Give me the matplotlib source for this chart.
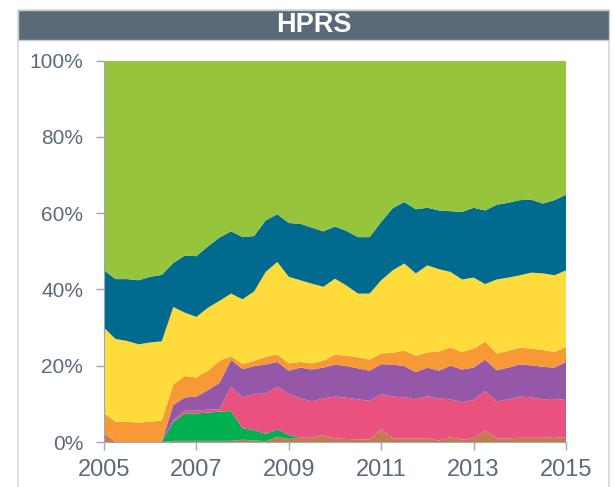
import matplotlib
matplotlib.use('Agg')
import matplotlib.pyplot as plt
from matplotlib.patches import Rectangle
import numpy as np

# quarterly shares (%), 2005 Q1 .. 2015 Q1
quarters = np.arange(2005, 2015.01, 0.25)

brown = [2.3, 0, 0, 0, 0, 0, 0.3, 0.3, 0.3, 0.3, 0.3, 0.3, 0.6, 0.4, 0.2, 1.4, 0.8, 1.1, 1.1, 1.8, 0.9,
         0.8, 0.7, 0.6, 3.4, 0.9, 0.9, 0.9, 0.9, 0.4, 1.3, 0.6, 1.0, 3.0, 0.9, 0.9, 1.1, 1.1, 1.1, 1.3, 1.1]
green = [0, 0, 0, 0, 0, 0, 5.0, 7.2, 7.2, 7.4, 7.7, 7.8, 3.0, 2.7, 1.9, 1.9, 1.0, 0, 0, 0, 0,
         0, 0, 0, 0, 0, 0, 0, 0, 0, 0, 0, 0, 0, 0, 0, 0, 0, 0, 0, 0]
pink = [0, 0, 0, 0, 0, 0, 0.3, 0.7, 0.7, 0.8, 0.6, 6.4, 8.1, 9.5, 10.6, 11.2, 10.9, 10.3, 9.6, 9.6, 11.0,
        10.8, 10.5, 10.2, 9.1, 11.0, 10.8, 10.3, 11.1, 11.0, 9.9, 9.8, 10.0, 10.4, 9.7, 10.3, 10.8, 10.6, 10.1, 10.0, 9.9]
purple = [0, 0, 0, 0, 0, 0, 4.1, 3.5, 3.7, 5.1, 6.9, 7.0, 7.4, 7.3, 7.6, 6.5, 6.0, 8.1, 8.3, 8.1, 8.4,
          8.3, 8.1, 7.9, 7.9, 8.4, 8.2, 7.1, 7.5, 7.3, 8.8, 8.6, 8.5, 8.2, 8.2, 8.3, 8.4, 8.4, 8.5, 8.2, 10.0]
orange = [5.4, 5.3, 5.3, 5.1, 5.3, 5.6, 5.4, 5.6, 5.0, 5.1, 5.8, 1.0, 1.3, 1.4, 2.0, 2.0, 1.9, 1.5, 1.6, 1.8, 2.6,
          2.7, 2.9, 2.9, 2.8, 3.1, 4.1, 4.3, 4.0, 5.0, 4.8, 4.6, 5.0, 4.7, 4.4, 4.4, 4.4, 4.4, 4.4, 4.1, 3.9]
yellow = [22.3, 21.7, 21.2, 20.5, 20.8, 20.8, 20.3, 16.6, 15.9, 16.5, 15.7, 16.4, 17.0, 18.2, 22.3, 24.2, 22.7, 21.4, 20.9, 19.4, 19.9,
          18.4, 16.7, 17.3, 19.2, 21.6, 22.8, 21.6, 22.8, 21.6, 19.8, 19.0, 18.6, 15.1, 19.4, 19.2, 19.0, 19.9, 20.1, 20.1, 20.1]
blue = [15.0, 15.7, 16.2, 16.8, 17.2, 17.4, 11.5, 15.0, 15.9, 16.1, 16.6, 16.3, 16.3, 14.5, 13.5, 12.5, 14.1, 14.8, 14.7, 14.5, 13.7,
        14.3, 14.8, 14.8, 15.3, 16.3, 16.1, 16.8, 15.1, 15.4, 15.9, 17.7, 18.3, 19.3, 19.6, 19.6, 19.7, 19.1, 18.3, 19.7, 19.8]
lightgreen = [55.0, 57.3, 57.3, 57.6, 56.7, 56.2, 53.1, 51.1, 51.3, 48.7, 46.4, 44.8, 46.3, 46.0, 41.9, 40.3, 42.6, 42.8, 43.8, 44.8, 43.5,
              44.7, 46.3, 46.3, 42.3, 38.7, 37.1, 39.0, 38.6, 39.3, 39.5, 39.7, 38.6, 39.3, 37.8, 37.3, 36.6, 36.5, 37.5, 36.6, 35.2]

colors = ['#C27C52', '#00B050', '#E9527F', '#9558A8', '#F79A36', '#FFDB3C', '#006A8F', '#97C43D']

plt.rcParams['font.family'] = ['Liberation Sans', 'DejaVu Sans']
text_col = '#5A6B7B'

fig = plt.figure(figsize=(6.14, 4.87), dpi=100)

# outer frame and title bar
fig.patches.append(Rectangle((18 / 614, -0.01), 591 / 614, 1 - 10 / 487 + 0.01,
                             transform=fig.transFigure, facecolor='none',
                             edgecolor='#D9D9D9', linewidth=1.2))
fig.patches.append(Rectangle((18 / 614, 1 - 40 / 487), 591 / 614, 30 / 487,
                             transform=fig.transFigure, facecolor='#5A6A79',
                             edgecolor='#C8CDD3', linewidth=1))
fig.text(314 / 614, 1 - 25 / 487, 'HPRS', color='white', fontsize=19.5,
         fontweight='bold', ha='center', va='center')

ax = fig.add_axes([104 / 614, 1 - 442 / 487, 462 / 614, 381.5 / 487])
ax.stackplot(quarters, brown, green, pink, purple, orange, yellow, blue, lightgreen,
             colors=colors, linewidth=0)

ax.set_xlim(2005, 2015)
ax.set_ylim(0, 100)
ax.set_xticks([2005, 2007, 2009, 2011, 2013, 2015])
ax.set_yticks([0, 20, 40, 60, 80, 100])
ax.set_yticklabels(['0%', '20%', '40%', '60%', '80%', '100%'])
ax.tick_params(axis='x', colors='#A0A8B3', labelcolor=text_col, labelsize=17,
               length=6, width=1, pad=6)
ax.tick_params(axis='y', colors='#A0A8B3', labelcolor=text_col, labelsize=15,
               length=6, width=1, pad=9)
for s in ['top', 'right']:
    ax.spines[s].set_visible(False)
ax.spines['left'].set_color('#9AA6BC')
ax.spines['bottom'].set_color('#A0A8B3')

plt.savefig('out.png', dpi=100)
